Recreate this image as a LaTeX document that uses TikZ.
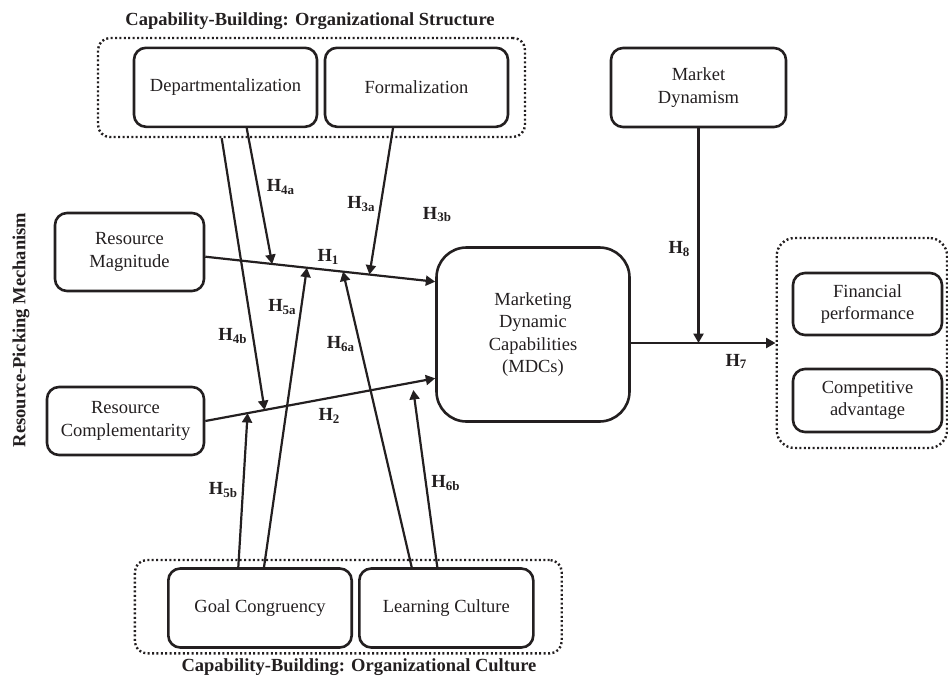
\documentclass[tikz,border=0pt]{standalone}
\usepackage{fontspec}
\setmainfont{Liberation Serif}
\usetikzlibrary{arrows.meta}
\definecolor{ink}{RGB}{35,31,32}

\begin{document}
\begin{tikzpicture}[x=0.5pt, y=-0.5pt, ink, font=\fontsize{9.25pt}{11.3pt}\selectfont,
        box/.style={draw, line width=1.3pt, rounded corners=6pt, align=center, inner sep=1pt},
        group/.style={draw, line width=1.2pt, dash pattern=on 1pt off 1.2pt, rounded corners=6pt, inner sep=0pt},
        hyp/.style={line width=1.1pt, -{Triangle[length=4.7pt, width=5pt]}},
        hlabel/.style={font=\fontsize{9.25pt}{11.3pt}\selectfont\bfseries, inner sep=0pt},
        headline/.style={font=\fontsize{9.25pt}{11.3pt}\selectfont\bfseries, inner sep=0pt}]
        \useasboundingbox (0,0) rectangle (948,686);

        \node[group, minimum width=213.5pt, minimum height=49.5pt] (structgrp) at (311.5,87.5) {};
        \node[group, minimum width=213.4pt, minimum height=46.7pt] (culturegrp) at (348.3,606.7) {};
        \node[group, minimum width=85.2pt, minimum height=105pt, rounded corners=9pt] (outgrp) at (861.9,343) {};

        \node[box, minimum width=91.5pt, minimum height=39.5pt] (dept) at (225.5,87.3) {Departmentalization};
        \node[box, minimum width=91.5pt, minimum height=39.5pt] (form) at (416.5,87.3) {Formalization};
        \node[box, minimum width=87.5pt, minimum height=39.5pt] (market) at (698.5,87.5) {Market\\Dynamism};
        \node[box, minimum width=74.5pt, minimum height=39pt] (mag) at (129.5,252) {Resource\\Magnitude};
        \node[box, minimum width=78.5pt, minimum height=34pt] (comp) at (125.5,421) {Resource\\Complementarity};
        \node[box, minimum width=96.5pt, minimum height=87pt, rounded corners=15pt] (mdc) at (533,334.5) {Marketing\\Dynamic\\Capabilities\\(MDCs)};
        \node[box, minimum width=74.5pt, minimum height=31pt] (fin) at (867.5,304) {Financial\\performance};
        \node[box, minimum width=74.5pt, minimum height=31.5pt] (adv) at (867.5,400.5) {Competitive\\advantage};
        \node[box, minimum width=91.7pt, minimum height=39.5pt] (goal) at (260,608) {Goal Congruency};
        \node[box, minimum width=87pt, minimum height=39.5pt] (learn) at (446.3,608) {Learning Culture};

        \node[headline] (structtitle) at (310,21) {Capability-Building: Organizational Structure};
        \node[headline] (culturetitle) at (359,666.7) {Capability-Building: Organizational Culture};
        \node[headline, rotate=90] (picktitle) at (21,330) {Resource-Picking Mechanism};

        \draw[hyp] ([yshift=-2.35pt]mag.east) -- coordinate[pos=0.291] (p4a) coordinate[pos=0.442] (p5a)
            coordinate[pos=0.599] (p6a) coordinate[pos=0.714] (p3a) ([yshift=26.4pt]mdc.west);
        \draw[hyp] (comp.east) -- coordinate[pos=0.184] (p5b) coordinate[pos=0.258] (p4b) ([yshift=-21.9pt]mdc.west);
        \coordinate (p6b) at (413.3,390);

        \draw[hyp] ([xshift=10.6pt]dept.south) -- (p4a);
        \draw[hyp] ([xshift=-1.9pt]dept.south |- structgrp.south) -- (p4b);
        \draw[hyp] ([xshift=-11.75pt]form.south) -- (p3a);
        \draw[hyp] ([xshift=-10.85pt]goal.north) -- (p5b);
        \draw[hyp] ([xshift=2pt]goal.north) -- (p5a);
        \draw[hyp] ([xshift=-17.3pt]learn.north) -- (p6a);
        \draw[hyp] ([xshift=-4.5pt]learn.north) -- (p6b);
        \draw[hyp] (mdc.east |- outgrp.west) -- (outgrp.west);
        \draw[hyp] (market.south) -- (market.south |- outgrp.west);

        \node[hlabel] (h1) at (328.5,257) {H\textsubscript{1}};
        \node[hlabel] (h2) at (329.5,416) {H\textsubscript{2}};
        \node[hlabel] (h3a) at (361.5,204) {H\textsubscript{3a}};
        \node[hlabel] (h3b) at (437.5,214.5) {H\textsubscript{3b}};
        \node[hlabel] (h4a) at (281,187) {H\textsubscript{4a}};
        \node[hlabel] (h4b) at (233,336) {H\textsubscript{4b}};
        \node[hlabel] (h5a) at (282.5,307) {H\textsubscript{5a}};
        \node[hlabel] (h5b) at (223.5,490) {H\textsubscript{5b}};
        \node[hlabel] (h6a) at (341,344) {H\textsubscript{6a}};
        \node[hlabel] (h6b) at (446,483) {H\textsubscript{6b}};
        \node[hlabel] (h7) at (736.5,361.5) {H\textsubscript{7}};
        \node[hlabel] (h8) at (679.5,249) {H\textsubscript{8}};

    \end{tikzpicture}
\end{document}
